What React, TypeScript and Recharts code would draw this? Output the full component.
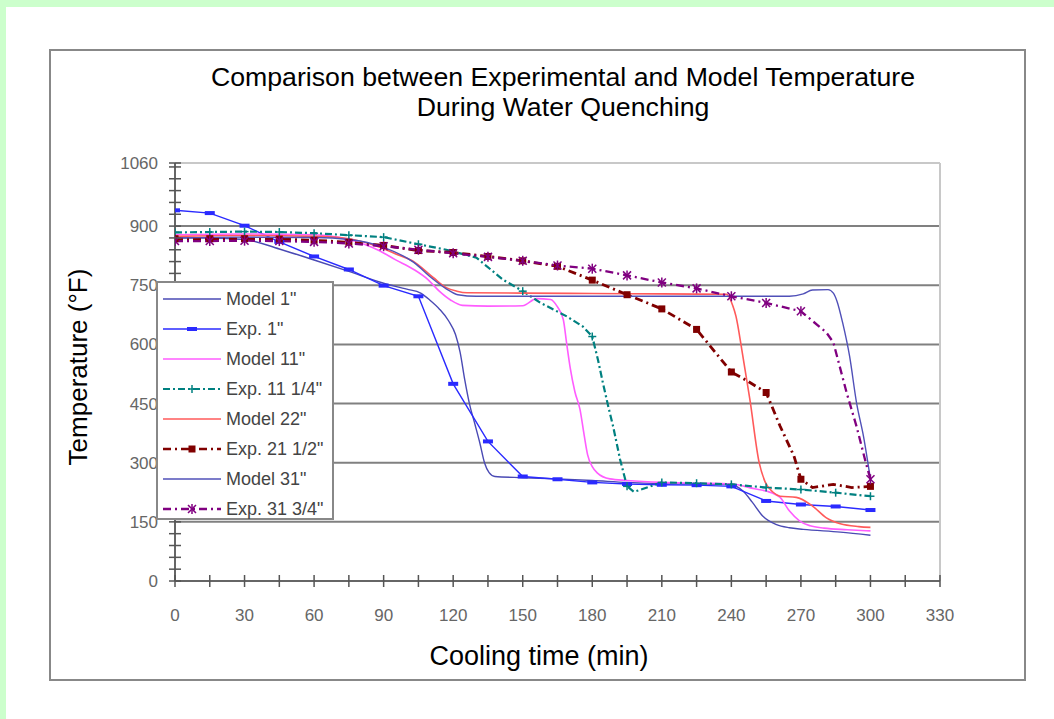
import { Line, LineChart, ReferenceLine, XAxis, YAxis } from "recharts";

const FONT = '"Liberation Sans", Arial, sans-serif';

// axis ticks
const xTicks = [0, 15, 30, 45, 60, 75, 90, 105, 120, 135, 150, 165, 180, 195, 210, 225, 240, 255, 270, 285, 300, 315, 330];
const xLabels = [0, 30, 60, 90, 120, 150, 180, 210, 240, 270, 300, 330];
const yTicks = [0, 30, 60, 90, 120, 150, 180, 210, 240, 270, 300, 330, 360, 390, 420, 450, 480, 510, 540, 570, 600, 630, 660, 690, 720, 750, 780, 810, 840, 870, 900, 930, 960, 990, 1020, 1050, 1060];
const yLabels = [0, 150, 300, 450, 600, 750, 900, 1060];
const gridLevels = [150, 300, 450, 600, 750, 900];

// [cooling time (min), temperature (F)]
const model1 = [[0, 870], [15, 870], [30, 866], [45, 842], [60, 814], [75, 785], [90, 755], [100, 740], [106, 730], [110, 712], [114, 690], [118, 660], [121, 625], [123, 580], [125, 510], [127, 450], [129.5, 395], [131.5, 350], [133.5, 300], [135.5, 275], [138, 265], [150, 262], [165, 259], [180, 255], [195, 250], [210, 247], [225, 246], [240, 244], [245, 228], [249, 200], [253.5, 165], [259.5, 143], [265, 135], [271, 131], [287, 124], [300, 116]];
const exp1 = [[0, 940], [15, 933], [30, 901], [45, 860], [60, 823], [75, 790], [90, 749], [105, 722], [120, 500], [135, 354], [150, 265], [165, 258], [180, 250], [195, 246], [210, 244], [225, 243], [240, 240], [255, 203], [270, 194], [285, 189], [300, 180]];
const model11 = [[0, 878], [30, 880], [60, 878], [75, 866], [88, 838], [95, 815], [103, 790], [109, 765], [114, 735], [119, 712], [124, 699], [135, 697], [150, 698], [156, 716], [162, 714], [165, 695], [167.5, 663], [169, 600], [170.5, 540], [172.5, 480], [174.7, 435], [176.5, 370], [178, 320], [180, 290], [182, 275], [187.6, 259], [195, 255], [210, 250], [225, 248], [240, 246], [250, 234], [255, 228], [261, 212], [265, 178], [269.5, 152], [274, 140], [280, 134], [290, 130], [300, 127]];
const exp11 = [[0, 884], [15, 885], [30, 886], [45, 885], [60, 882], [75, 877], [90, 872], [105, 854], [117, 840], [130, 820], [141.5, 764], [150, 735], [157.5, 706], [169, 671], [176, 645], [180, 620], [182.5, 560], [184.6, 502], [187, 440], [189, 392], [192, 308], [195, 240], [198, 226], [205, 240], [210, 250], [225, 248], [240, 245], [255, 237], [270, 232], [285, 224], [300, 215]];
const model22 = [[0, 874], [30, 876], [60, 874], [75, 868], [88, 847], [95, 830], [102.7, 811], [111.5, 769], [117, 744], [121.6, 735], [126, 731], [150, 730], [180, 729], [210, 728], [238, 727], [240.5, 700], [242, 671], [244.5, 587], [248, 460], [252, 300], [254.5, 252], [258, 225], [261, 215], [268, 212], [275, 190], [281, 160], [287, 145], [295, 138], [300, 136]];
const exp21 = [[0, 868], [15, 868], [30, 868], [45, 867], [60, 864], [75, 859], [90, 851], [105, 838], [120, 833], [135, 823], [150, 812], [165, 798], [180, 763], [195, 726], [210, 690], [225, 638], [240, 530], [247, 507], [255, 478], [261, 393], [267, 317], [270, 258], [275, 237], [284, 245], [292, 237], [300, 240]];
const model31 = [[0, 870], [30, 872], [60, 871], [75, 866], [90, 846], [103, 808], [111, 767], [117, 741], [122, 726], [130, 722], [160, 722], [200, 722], [240, 722], [265, 722], [271, 728], [275, 738], [281.7, 739], [284, 730], [285.6, 709], [288, 655], [291, 570], [294, 452], [297, 367], [300, 258]];
const exp31 = [[0, 862], [15, 862], [30, 863], [45, 862], [60, 860], [75, 856], [90, 849], [105, 840], [120, 831], [135, 822], [150, 812], [165, 800], [180, 792], [195, 775], [210, 757], [225, 742], [240, 722], [255, 705], [270, 684], [281, 630], [284, 605], [289.7, 478], [294, 392], [298, 300], [300, 258]];

type Marker = "none" | "bar" | "plus" | "square" | "star";

interface SeriesDef {
	name: string;
	data: number[][];
	color: string;
	width: number;
	dash?: string;
	marker: Marker;
	curve: "monotone" | "linear";
}

const series: SeriesDef[] = [
	{ name: 'Model 1"', data: model1, color: "#4a4ab4", width: 1.4, marker: "none", curve: "monotone" },
	{ name: 'Exp. 1"', data: exp1, color: "#2a2aff", width: 1.4, marker: "bar", curve: "linear" },
	{ name: 'Model 11"', data: model11, color: "#ff5cff", width: 1.6, marker: "none", curve: "monotone" },
	{ name: 'Exp. 11 1/4"', data: exp11, color: "#008080", width: 2.2, dash: "7 3 2 3", marker: "plus", curve: "linear" },
	{ name: 'Model 22"', data: model22, color: "#ff5a5a", width: 1.6, marker: "none", curve: "monotone" },
	{ name: 'Exp. 21 1/2"', data: exp21, color: "#800000", width: 2.8, dash: "8 4 2 4", marker: "square", curve: "linear" },
	{ name: 'Model 31"', data: model31, color: "#5050b8", width: 1.4, marker: "none", curve: "monotone" },
	{ name: 'Exp. 31 3/4"', data: exp31, color: "#800080", width: 2.3, dash: "8 4 2 4", marker: "star", curve: "linear" },
];

function drawMarker(kind: Marker, color: string, cx: number, cy: number, key?: string | number) {
	if (kind === "bar")
		return <rect key={key} x={cx - 5} y={cy - 2} width={10} height={4} fill={color} />;
	if (kind === "square")
		return <rect key={key} x={cx - 3.5} y={cy - 3.5} width={7} height={7} fill={color} />;
	if (kind === "plus")
		return (
			<g key={key} stroke={color} strokeWidth={1.5}>
				<line x1={cx - 4} y1={cy} x2={cx + 4} y2={cy} />
				<line x1={cx} y1={cy - 4} x2={cx} y2={cy + 4} />
			</g>
		);
	if (kind === "star")
		return (
			<g key={key} stroke={color} strokeWidth={1.5}>
				<line x1={cx - 4} y1={cy - 4} x2={cx + 4} y2={cy + 4} />
				<line x1={cx - 4} y1={cy + 4} x2={cx + 4} y2={cy - 4} />
				<line x1={cx} y1={cy - 5} x2={cx} y2={cy + 5} />
			</g>
		);
	return <g key={key} />;
}

function XTick(props: any) {
	const { x, y, payload } = props;
	const v = payload.value;
	return (
		<g>
			<line x1={x} y1={y - 6} x2={x} y2={y + 6} stroke="#555" strokeWidth={1.5} />
			{xLabels.includes(v) && (
				<text x={x} y={y + 40} textAnchor="middle" fill="#666" fontSize={17} fontFamily={FONT}>
					{v}
				</text>
			)}
		</g>
	);
}

function YTick(props: any) {
	const { x, y, payload } = props;
	const v = payload.value;
	return (
		<g>
			<line x1={x - 6} y1={y} x2={x + 6} y2={y} stroke="#555" strokeWidth={1.5} />
			{yLabels.includes(v) && (
				<text x={x - 17} y={y + 6} textAnchor="end" fill="#666" fontSize={17} fontFamily={FONT}>
					{v}
				</text>
			)}
		</g>
	);
}

function LegendBox() {
	return (
		<div
			style={{
				position: "absolute",
				left: 156,
				top: 281,
				width: 174,
				height: 234,
				border: "2px solid #888",
				background: "#fff",
				paddingTop: 1,
				fontFamily: FONT,
			}}
		>
			{series.map((s) => (
				<div key={s.name} style={{ height: 30, display: "flex", alignItems: "center" }}>
					<svg width={62} height={14} style={{ marginLeft: 3 }}>
						<line x1={2} y1={7} x2={60} y2={7} stroke={s.color} strokeWidth={Math.min(s.width, 2.4)} strokeDasharray={s.dash} />
						{drawMarker(s.marker, s.color, 31, 7)}
					</svg>
					<span style={{ fontSize: 18, color: "#444", marginLeft: 3, whiteSpace: "nowrap" }}>{s.name}</span>
				</div>
			))}
		</div>
	);
}

export default function App() {
	return (
		<div
			style={{
				position: "fixed",
				left: 0,
				top: 0,
				width: 1054,
				height: 719,
				background: "#fff",
				overflow: "hidden",
				fontFamily: FONT,
			}}
		>
			<div style={{ position: "absolute", left: 0, top: 0, width: 1054, height: 7, background: "#ccffcc" }} />
			<div style={{ position: "absolute", left: 0, top: 0, width: 6, height: 719, background: "#ccffcc" }} />
			<div
				style={{
					position: "absolute",
					left: 49,
					top: 49,
					width: 973,
					height: 628,
					border: "2px solid #888",
				}}
			/>
			<div style={{ position: "absolute", left: 0, top: 0 }}>
				<LineChart width={1054} height={719} margin={{ top: 163, right: 114, bottom: 98, left: 115 }}>
					{gridLevels.map((g) => (
						<ReferenceLine key={g} y={g} stroke="#808080" strokeWidth={2} />
					))}
					<ReferenceLine y={1060} stroke="#c8c8c8" strokeWidth={2} />
					<ReferenceLine x={330} stroke="#c8c8c8" strokeWidth={2} />
					<XAxis
						type="number"
						dataKey="time"
						domain={[0, 330]}
						ticks={xTicks}
						interval={0}
						tickSize={0}
						tickMargin={0}
						tick={<XTick />}
						axisLine={{ stroke: "#666", strokeWidth: 2 }}
						height={40}
						allowDataOverflow
					/>
					<YAxis
						type="number"
						domain={[0, 1060]}
						ticks={yTicks}
						interval={0}
						tickSize={0}
						tickMargin={0}
						tick={<YTick />}
						axisLine={{ stroke: "#666", strokeWidth: 2 }}
						width={60}
						allowDataOverflow
					/>
					{series.map((s) => (
						<Line
							key={s.name}
							name={s.name}
							data={s.data.map(([time, temp]) => ({ time, temp }))}
							dataKey="temp"
							type={s.curve}
							stroke={s.color}
							strokeWidth={s.width}
							strokeDasharray={s.dash}
							isAnimationActive={false}
							dot={
								s.marker === "none"
									? false
									: (p: any) =>
											p.payload.time % 15 === 0
												? drawMarker(s.marker, s.color, p.cx, p.cy, `${s.name}-${p.index}`)
												: <g key={`${s.name}-${p.index}`} />
							}
							activeDot={false}
						/>
					))}
				</LineChart>
			</div>
			<LegendBox />
			<div
				style={{
					position: "absolute",
					left: 163,
					width: 800,
					top: 62,
					textAlign: "center",
					fontSize: 26.7,
					lineHeight: "30px",
					color: "#000",
				}}
			>
				Comparison between Experimental and Model Temperature
				<br />
				During Water Quenching
			</div>
			<div
				style={{
					position: "absolute",
					left: 339,
					width: 400,
					top: 641,
					textAlign: "center",
					fontSize: 27,
					color: "#000",
				}}
			>
				Cooling time (min)
			</div>
			<div
				style={{
					position: "absolute",
					left: 78,
					top: 367,
					transform: "translate(-50%, -50%) rotate(-90deg)",
					fontSize: 26,
					whiteSpace: "nowrap",
					color: "#000",
				}}
			>
				Temperature (°F)
			</div>
		</div>
	);
}
